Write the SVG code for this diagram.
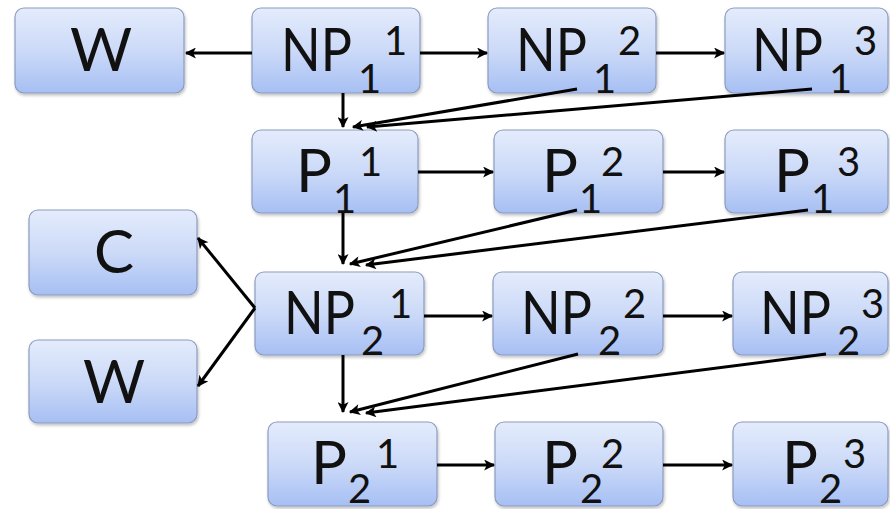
<svg xmlns="http://www.w3.org/2000/svg" width="890" height="509" viewBox="0 0 890 509">
  <style>
    .box { fill: url(#boxFill); stroke: #8c9cc0; stroke-width: 1.2; filter: url(#shadow); }
    .lbl { font-family: Lato, "Open Sans", "Liberation Sans", sans-serif; fill: #111; }
    .big { font-size: 60px; }
    .idx { font-size: 40px; }
    .edge { stroke: #000; stroke-width: 3; fill: none; marker-end: url(#head); }
  </style>
  <defs>
    <linearGradient id="boxFill" x1="0" y1="0" x2="0" y2="1">
      <stop offset="0" stop-color="#e4ecfc"/>
      <stop offset="0.5" stop-color="#ccdaf8"/>
      <stop offset="1" stop-color="#a6bff3"/>
    </linearGradient>
    <filter id="shadow" x="-10%" y="-10%" width="125%" height="130%">
      <feDropShadow dx="1" dy="2" stdDeviation="1.5" flood-color="#000" flood-opacity="0.25"/>
    </filter>
    <marker id="head" viewBox="0 0 10 10" refX="9" refY="5" markerUnits="userSpaceOnUse" markerWidth="12" markerHeight="11" orient="auto">
      <path d="M0,0 L10,5 L0,10 L2.5,5 z" fill="#000"/>
    </marker>
  </defs>

  <!-- row 1 -->
  <g id="w1">
    <rect class="box" x="15" y="8" width="169" height="85" rx="9"/>
    <text class="lbl big" x="101" y="71" text-anchor="middle">W</text>
  </g>
  <g id="np11">
    <rect class="box" x="252" y="8" width="168" height="85" rx="9"/>
    <text class="lbl big" x="281" y="71" textLength="71" lengthAdjust="spacingAndGlyphs">NP</text>
    <text class="lbl idx" x="358" y="93">1</text>
    <text class="lbl idx" x="384" y="55">1</text>
  </g>
  <g id="np12">
    <rect class="box" x="488" y="8" width="168" height="85" rx="9"/>
    <text class="lbl big" x="516" y="71" textLength="71" lengthAdjust="spacingAndGlyphs">NP</text>
    <text class="lbl idx" x="593" y="93">1</text>
    <text class="lbl idx" x="618" y="55">2</text>
  </g>
  <g id="np13">
    <rect class="box" x="725" y="8" width="163" height="85" rx="9"/>
    <text class="lbl big" x="752" y="71" textLength="71" lengthAdjust="spacingAndGlyphs">NP</text>
    <text class="lbl idx" x="829" y="93">1</text>
    <text class="lbl idx" x="854" y="55">3</text>
  </g>

  <!-- row 2 -->
  <g id="p11">
    <rect class="box" x="252" y="130" width="166" height="83" rx="9"/>
    <text class="lbl big" x="296" y="192">P</text>
    <text class="lbl idx" x="333" y="213">1</text>
    <text class="lbl idx" x="359" y="176">1</text>
  </g>
  <g id="p12">
    <rect class="box" x="494" y="130" width="169" height="83" rx="9"/>
    <text class="lbl big" x="542" y="192">P</text>
    <text class="lbl idx" x="579" y="213">1</text>
    <text class="lbl idx" x="601" y="176">2</text>
  </g>
  <g id="p13">
    <rect class="box" x="725" y="130" width="163" height="83" rx="9"/>
    <text class="lbl big" x="774" y="192">P</text>
    <text class="lbl idx" x="811" y="213">1</text>
    <text class="lbl idx" x="837" y="176">3</text>
  </g>

  <!-- row 3 -->
  <g id="c">
    <rect class="box" x="29" y="210" width="168" height="85" rx="9"/>
    <text class="lbl big" x="114" y="273" text-anchor="middle">C</text>
  </g>
  <g id="w2">
    <rect class="box" x="29" y="340" width="168" height="83" rx="9"/>
    <text class="lbl big" x="114" y="403" text-anchor="middle">W</text>
  </g>
  <g id="np21">
    <rect class="box" x="255" y="272" width="169" height="83" rx="9"/>
    <text class="lbl big" x="284" y="334" textLength="71" lengthAdjust="spacingAndGlyphs">NP</text>
    <text class="lbl idx" x="361" y="355">2</text>
    <text class="lbl idx" x="389" y="318">1</text>
  </g>
  <g id="np22">
    <rect class="box" x="493" y="272" width="170" height="83" rx="9"/>
    <text class="lbl big" x="521" y="334" textLength="71" lengthAdjust="spacingAndGlyphs">NP</text>
    <text class="lbl idx" x="598" y="355">2</text>
    <text class="lbl idx" x="623" y="318">2</text>
  </g>
  <g id="np23">
    <rect class="box" x="733" y="272" width="155" height="83" rx="9"/>
    <text class="lbl big" x="760" y="334" textLength="71" lengthAdjust="spacingAndGlyphs">NP</text>
    <text class="lbl idx" x="837" y="355">2</text>
    <text class="lbl idx" x="861" y="318">3</text>
  </g>

  <!-- row 4 -->
  <g id="p21">
    <rect class="box" x="268" y="422" width="169" height="84" rx="9"/>
    <text class="lbl big" x="311" y="484">P</text>
    <text class="lbl idx" x="348" y="503">2</text>
    <text class="lbl idx" x="376" y="468">1</text>
  </g>
  <g id="p22">
    <rect class="box" x="495" y="422" width="168" height="84" rx="9"/>
    <text class="lbl big" x="542" y="484">P</text>
    <text class="lbl idx" x="580" y="503">2</text>
    <text class="lbl idx" x="601" y="468">2</text>
  </g>
  <g id="p23">
    <rect class="box" x="733" y="422" width="155" height="84" rx="9"/>
    <text class="lbl big" x="782" y="484">P</text>
    <text class="lbl idx" x="819" y="503">2</text>
    <text class="lbl idx" x="843" y="468">3</text>
  </g>

  <!-- connectors -->
  <g id="edges">
    <line class="edge" x1="252" y1="53" x2="186" y2="53"/>
    <line class="edge" x1="420" y1="53" x2="487" y2="53"/>
    <line class="edge" x1="656" y1="53" x2="724" y2="53"/>

    <line class="edge" x1="343" y1="93" x2="343" y2="127"/>
    <line class="edge" x1="577" y1="89" x2="353" y2="127"/>
    <line class="edge" x1="812" y1="89" x2="367" y2="127"/>

    <line class="edge" x1="418" y1="172" x2="493" y2="172"/>
    <line class="edge" x1="663" y1="172" x2="724" y2="172"/>

    <line class="edge" x1="343" y1="213" x2="343" y2="264"/>
    <line class="edge" x1="577" y1="210" x2="350" y2="264"/>
    <line class="edge" x1="808" y1="210" x2="366" y2="265"/>

    <line class="edge" x1="255" y1="308" x2="198" y2="238"/>
    <line class="edge" x1="255" y1="308" x2="198" y2="386"/>

    <line class="edge" x1="424" y1="316" x2="492" y2="316"/>
    <line class="edge" x1="663" y1="316" x2="732" y2="316"/>

    <line class="edge" x1="343" y1="355" x2="343" y2="412"/>
    <line class="edge" x1="578" y1="354" x2="350" y2="412"/>
    <line class="edge" x1="826" y1="354" x2="366" y2="413"/>

    <line class="edge" x1="437" y1="465" x2="494" y2="465"/>
    <line class="edge" x1="663" y1="465" x2="732" y2="465"/>
  </g>
</svg>
